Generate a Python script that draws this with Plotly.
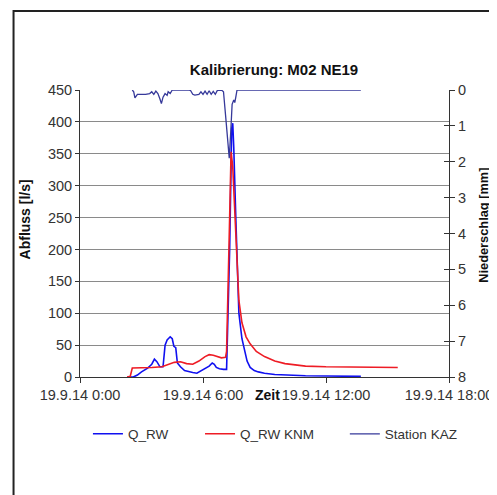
import pandas as pd
import plotly.graph_objects as go

# ---------------- data ----------------
base_date = "2014-09-19"

# Q_RW (measured discharge, l/s)
qrw_hours = [2.3, 2.6, 2.8, 3.0, 3.3, 3.5, 3.63, 3.75, 3.9, 4.05, 4.15, 4.25, 4.4, 4.5, 4.58, 4.67,
             4.75, 4.9, 5.1, 5.3, 5.5, 5.7, 5.9, 6.1, 6.3, 6.45, 6.55, 6.65, 6.8, 7.0, 7.15, 7.3,
             7.4, 7.45, 7.5, 7.6, 7.75, 7.9, 8.0, 8.15, 8.3, 8.5, 8.7, 9.0, 9.5, 10.0, 11.0, 12.0,
             13.0, 13.7]
qrw_values = [0, 0, 3, 8, 14, 20, 28, 24, 16, 16, 50, 58, 63, 60, 48, 46,
              22, 16, 10, 8, 7, 6, 10, 14, 17, 22, 20, 15, 13, 12, 12, 200,
              390, 398, 360, 250, 100, 60, 47, 25, 15, 10, 8, 6, 4, 3, 2, 1.5,
              1, 1]

# Q_RW KNM (model, l/s)
knm_hours = [2.3, 2.45, 2.55, 3.0, 3.5, 4.0, 4.3, 4.6, 4.9, 5.2, 5.5, 5.8, 6.1, 6.3, 6.5, 6.7,
             6.9, 7.1, 7.15, 7.3, 7.37, 7.45, 7.6, 7.75, 7.9, 8.1, 8.3, 8.6, 9.0, 9.5, 10.0, 10.5,
             11.0, 12.0, 13.0, 14.0, 15.5]
knm_values = [0, 1, 14, 15, 15, 16, 19, 23, 24, 21, 20, 25, 32, 35, 34, 32,
              30, 31, 40, 250, 353, 330, 230, 120, 85, 63, 52, 40, 32, 25, 21, 19,
              17, 16, 15.5, 15, 15]

# Station KAZ (rainfall, mm)
kaz_hours = [2.55, 2.62, 2.68, 2.8, 3.2, 3.4, 3.5, 3.6, 3.7, 3.8, 3.9, 3.97, 4.05, 4.15, 4.25, 4.3,
             4.4, 4.5, 5.3, 5.4, 5.5, 5.6, 5.8, 5.9, 6.0, 6.1, 6.2, 6.3, 6.4, 6.5, 6.6, 6.7,
             6.9, 7.0, 7.1, 7.2, 7.28, 7.35, 7.42, 7.5, 7.55, 7.6, 7.66, 13.7]
kaz_values = [0, 0.05, 0.22, 0.12, 0.12, 0.1, 0.05, 0.12, 0.03, 0.1, 0.25, 0.38, 0.2, 0.1, 0.15, 0.05,
              0.1, 0, 0, 0.02, 0.12, 0.14, 0.12, 0.05, 0.12, 0.03, 0.12, 0.02, 0.12, 0.04, 0.12, 0.01,
              0, 0.05, 0.7, 1.5, 1.9, 1.2, 0.4, 0.28, 0.35, 0.2, 0, 0]

x_tick_vals = ["2014-09-19 00:00", "2014-09-19 06:00", "2014-09-19 12:00", "2014-09-19 18:00"]
x_tick_text = ["19.9.14 0:00", "19.9.14 6:00", "19.9.14 12:00", "19.9.14 18:00"]
left_ticks = [0, 50, 100, 150, 200, 250, 300, 350, 400, 450]
right_ticks = [0, 1, 2, 3, 4, 5, 6, 7, 8]

title_text = "Kalibrierung: M02 NE19"
series_names = ["Q_RW", "Q_RW KNM", "Station KAZ"]


def to_time(hours):
    return pd.Timestamp(base_date) + pd.to_timedelta(hours, unit="h")


FONT = "Arial, Liberation Sans, sans-serif"

# page pixel helpers (page has an 8px body offset; plot area spans x 80..452, y 90..377)
def px(xp):
    return (xp - 80) / 372


def py(yp):
    return (377 - yp) / 287


fig = go.Figure()
fig.add_trace(go.Scatter(x=to_time(qrw_hours), y=qrw_values, name=series_names[0],
                         mode="lines", line=dict(color="#1010f0", width=1.6), legend="legend"))
fig.add_trace(go.Scatter(x=to_time(knm_hours), y=knm_values, name=series_names[1],
                         mode="lines", line=dict(color="#ee1c25", width=1.6), legend="legend2"))
fig.add_trace(go.Scatter(x=to_time(kaz_hours), y=kaz_values, name=series_names[2],
                         mode="lines", line=dict(color="#36399a", width=1.3), yaxis="y2",
                         legend="legend3"))
# dummy trace to activate yaxis3 (cross tick marks on right axis)
fig.add_trace(go.Scatter(x=[None], y=[None], yaxis="y3", showlegend=False, hoverinfo="skip"))

legend_common = dict(orientation="h", yanchor="middle", xanchor="left",
                     font=dict(size=13.5, color="#333", family=FONT), bgcolor="rgba(0,0,0,0)")

fig.update_layout(
    width=497, height=495,
    margin=dict(l=72, r=53, t=82, b=126),
    paper_bgcolor="white", plot_bgcolor="white",
    font=dict(family=FONT, size=14, color="#222"),
    title=dict(text="<b>" + title_text + "</b>", x=266 / 497, xanchor="center",
               y=1 - 62 / 495, yanchor="middle", yref="container",
               font=dict(size=15, family=FONT, color="#111")),
    xaxis=dict(range=["2014-09-19 00:00", "2014-09-19 18:00"],
               tickvals=x_tick_vals, ticktext=x_tick_text,
               showgrid=False, zeroline=False,
               showline=True, linecolor="#333", linewidth=1,
               ticks="outside", ticklen=5, tickcolor="#333",
               tickfont=dict(size=14.5, color="#333")),
    yaxis=dict(range=[0, 450], tickvals=left_ticks,
               showgrid=True, gridcolor="#8a8a8a", gridwidth=1,
               zeroline=False, showline=True, linecolor="#333", linewidth=1,
               ticks="outside", ticklen=4, tickcolor="#333",
               tickfont=dict(size=14.5, color="#333")),
    yaxis2=dict(range=[8, 0], tickvals=right_ticks, overlaying="y", side="right",
                showgrid=False, zeroline=False, showline=True, linecolor="#333", linewidth=1,
                ticks="outside", ticklen=5, tickcolor="#333",
                tickfont=dict(size=14.5, color="#333")),
    yaxis3=dict(range=[8, 0], tickvals=right_ticks, overlaying="y", side="right",
                anchor="x", showgrid=False, zeroline=False, showline=False,
                ticks="inside", ticklen=5, tickcolor="#333", showticklabels=False),
    legend=dict(x=px(88), y=py(434), **legend_common),
    legend2=dict(x=px(201), y=py(434), **legend_common),
    legend3=dict(x=px(347), y=py(434), **legend_common),
    showlegend=True,
)

fig.add_annotation(text="<b>Zeit</b>", xref="paper", yref="paper",
                   x=px(269), y=py(395), showarrow=False,
                   xanchor="center", yanchor="middle", font=dict(size=14, color="#111"))
fig.add_annotation(text="<b>Abfluss [l/s]</b>", xref="paper", yref="paper",
                   x=px(25), y=py(219), showarrow=False, textangle=-90,
                   xanchor="center", yanchor="middle", font=dict(size=14, color="#111"))
fig.add_annotation(text="<b>Niederschlag [mm]</b>", xref="paper", yref="paper",
                   x=px(486), y=py(225), showarrow=False, textangle=-90,
                   xanchor="center", yanchor="middle", font=dict(size=12.8, color="#111"))

# outer frame (top-left border of the chart image)
fig.add_shape(type="path", xref="paper", yref="paper",
              path="M {x0},{y0} L {x0},{y1} L {x2},{y1}".format(
                  x0=px(13), y0=py(520), y1=py(11), x2=px(520)),
              line=dict(color="#222", width=2))

fig.write_html("out.html")
